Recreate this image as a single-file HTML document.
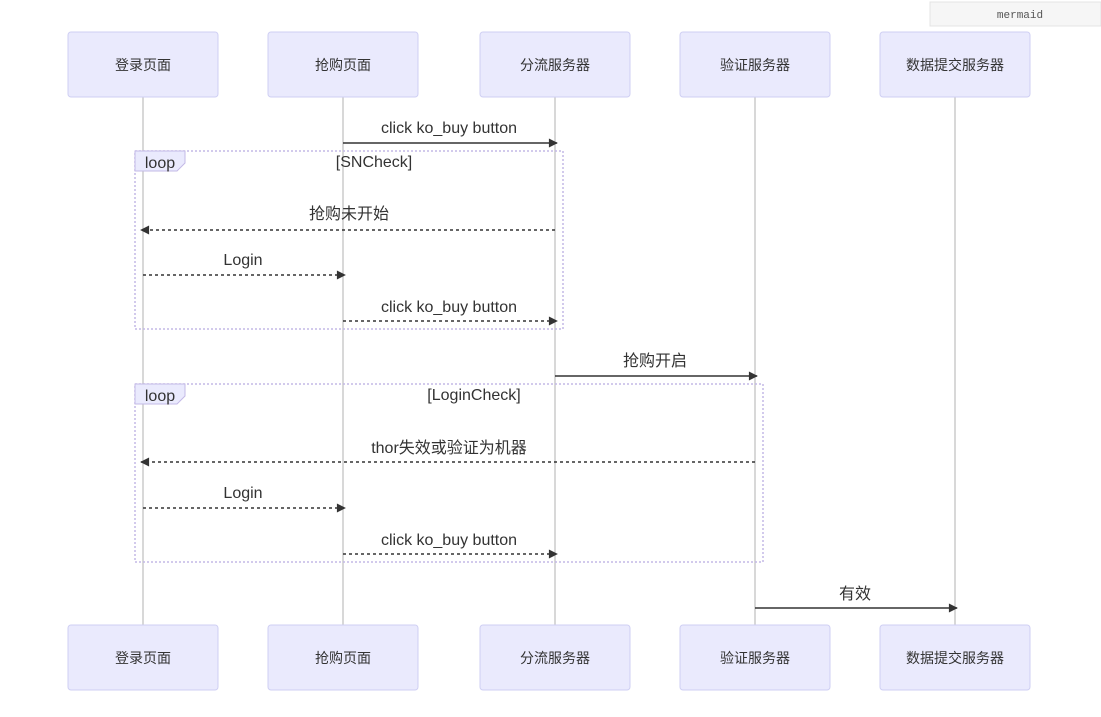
<!DOCTYPE html>
<html><head><meta charset="utf-8"><style>
html,body{margin:0;padding:0;background:#fff;}
svg{display:block;}
text{font-family:"Liberation Sans","Noto Sans CJK SC",sans-serif;}
text.mono{font-family:"Liberation Mono",monospace;}
</style></head><body>
<svg width="1101" height="717" viewBox="0 0 1101 717" xmlns="http://www.w3.org/2000/svg">
<defs>
<marker id="ah" viewBox="0 0 10 10" refX="9" refY="5" markerWidth="10" markerHeight="9" markerUnits="userSpaceOnUse" orient="auto">
<path d="M0,0 L10,5 L0,10 z" fill="#333"/></marker>
</defs>
<rect x="930" y="2" width="171" height="24" fill="#f6f6f6" stroke="#e4e4e4"/>
<text class="mono" x="1020" y="18" font-size="11" fill="#555" text-anchor="middle">mermaid</text>
<g stroke="#ccc" stroke-width="1.5">
<line x1="143" y1="97" x2="143" y2="625"/><line x1="343" y1="97" x2="343" y2="625"/>
<line x1="555" y1="97" x2="555" y2="625"/><line x1="755" y1="97" x2="755" y2="625"/>
<line x1="955" y1="97" x2="955" y2="625"/>
</g>
<g fill="#eaeafd" stroke="#cfcff3" stroke-width="1">
<rect x="68" y="32" width="150" height="65" rx="3"/><rect x="268" y="32" width="150" height="65" rx="3"/>
<rect x="480" y="32" width="150" height="65" rx="3"/><rect x="680" y="32" width="150" height="65" rx="3"/>
<rect x="880" y="32" width="150" height="65" rx="3"/>
<rect x="68" y="625" width="150" height="65" rx="3"/><rect x="268" y="625" width="150" height="65" rx="3"/>
<rect x="480" y="625" width="150" height="65" rx="3"/><rect x="680" y="625" width="150" height="65" rx="3"/>
<rect x="880" y="625" width="150" height="65" rx="3"/>
</g>
<g font-size="14" fill="#333" text-anchor="middle">
<text x="143" y="70">登录页面</text><text x="343" y="70">抢购页面</text><text x="555" y="70">分流服务器</text><text x="755" y="70">验证服务器</text><text x="955" y="70">数据提交服务器</text>
<text x="143" y="663">登录页面</text><text x="343" y="663">抢购页面</text><text x="555" y="663">分流服务器</text><text x="755" y="663">验证服务器</text><text x="955" y="663">数据提交服务器</text>
</g>
<g fill="none" stroke="#c3b9e6" stroke-width="1.5" stroke-dasharray="2,2">
<rect x="135" y="151" width="428" height="178"/>
<rect x="135" y="384" width="628" height="178"/>
</g>
<path d="M135,151 H185 V163 L177,171 H135 z" fill="#eaeafd" stroke="#c3b9e6"/>
<path d="M135,384 H185 V396 L177,404 H135 z" fill="#eaeafd" stroke="#c3b9e6"/>
<g font-size="16" fill="#333" text-anchor="middle">
<text x="160" y="168">loop</text><text x="160" y="401">loop</text>
<text x="374" y="167">[SNCheck]</text><text x="474" y="400">[LoginCheck]</text>
<text x="449" y="133">click ko_buy button</text>
<text x="349" y="219">抢购未开始</text>
<text x="243" y="265">Login</text>
<text x="449" y="312">click ko_buy button</text>
<text x="655" y="366">抢购开启</text>
<text x="449" y="453">thor失效或验证为机器</text>
<text x="243" y="498">Login</text>
<text x="449" y="545">click ko_buy button</text>
<text x="855" y="599">有效</text>
</g>
<g stroke="#333" stroke-width="1.5" marker-end="url(#ah)">
<line x1="343" y1="143" x2="557" y2="143"/>
<line x1="555" y1="230" x2="141" y2="230" stroke-dasharray="3,3"/>
<line x1="143" y1="275" x2="345" y2="275" stroke-dasharray="3,3"/>
<line x1="343" y1="321" x2="557" y2="321" stroke-dasharray="3,3"/>
<line x1="555" y1="376" x2="757" y2="376"/>
<line x1="755" y1="462" x2="141" y2="462" stroke-dasharray="3,3"/>
<line x1="143" y1="508" x2="345" y2="508" stroke-dasharray="3,3"/>
<line x1="343" y1="554" x2="557" y2="554" stroke-dasharray="3,3"/>
<line x1="755" y1="608" x2="957" y2="608"/>
</g>
</svg>
</body></html>
